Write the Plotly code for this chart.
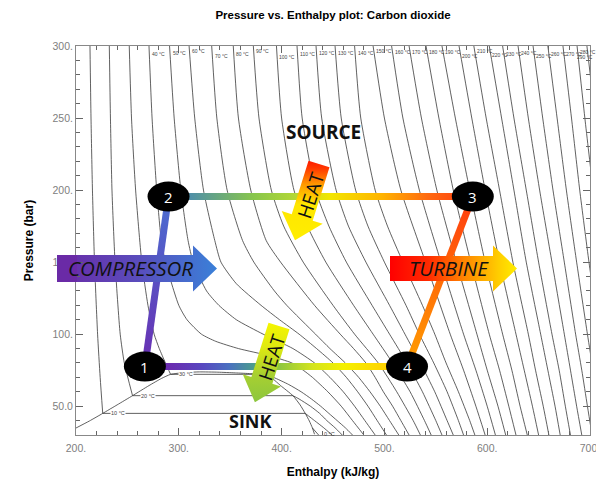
import math
import plotly.graph_objects as go

# ---------------- axes ----------------
x_range = [200, 700]
y_range = [30, 300]
x_tickvals = [200, 300, 400, 500, 600, 700]
x_ticktext = ["200.", "300.", "400.", "500.", "600.", "700."]
y_tickvals = [50, 100, 150, 200, 250, 300]
y_ticktext = ["50.0", "100.", "150.", "200.", "250.", "300."]

# ---------------- saturation dome (h kJ/kg, P bar) ----------------
dome_h = [200, 213, 226, 240, 255, 271, 283, 292, 305, 320, 338, 355, 370, 381, 391, 399, 411, 418, 423, 427, 430, 432]
dome_P = [34.85, 39.7, 45.0, 50.9, 57.3, 64.3, 69.2, 72.1, 73.3, 73.8, 73.6, 73.1, 72.6, 72.1, 69.2, 64.3, 57.3, 50.9, 45.0, 39.7, 34.85, 30.5]

# ---------------- subcritical isotherms ----------------
liq10_P = [300, 250, 200, 150, 100, 70, 45.0]
liq10_h = [213.6, 214.6, 216, 218, 221, 223.5, 226]
vap10_P = [45.0, 40, 35, 30]
vap10_h = [423, 432, 441, 449]

liq20_P = [300, 250, 200, 150, 100, 80, 57.3]
liq20_h = [232.4, 233.5, 235, 238, 243, 247, 255]
vap20_P = [57.3, 55, 50, 45, 40, 35, 30]
vap20_h = [411, 417, 428, 437, 444, 452, 459]

liq30_P = [300, 250, 200, 150, 120, 100, 90, 80, 72.1]
liq30_h = [251.8, 254, 258, 264, 270, 276, 281, 287, 292]
vap30_P = [72.1, 70, 65, 60, 55, 50, 45, 40, 35, 30]
vap30_h = [381, 392, 407, 419, 429, 438, 446, 454, 462, 469]

vap0_P = [34.85, 32.5, 30]
vap0_h = [430, 433, 436]

# ---------------- supercritical isotherms ----------------
P_iso_40 = [300, 250, 200, 165, 150, 120, 110, 100, 95, 90, 85, 80, 75, 70, 60, 50, 40, 30]
h_iso_40 = [271, 274, 278.5, 283, 287, 300, 308, 322, 336, 358, 388, 410, 421, 430, 445, 458, 469, 480]
P_iso_50 = [300, 250, 200, 165, 150, 130, 120, 110, 100, 90, 80, 70, 60, 50, 40, 30]
h_iso_50 = [291, 295.5, 302, 309, 314, 327, 339, 356, 382, 411, 432, 447, 460, 471, 481, 491]
P_iso_60 = [300, 250, 200, 165, 150, 135, 120, 110, 100, 90, 80, 70, 60, 50, 40, 30]
h_iso_60 = [310, 315.5, 324, 335, 341, 356, 380, 398, 417, 434, 450, 463, 474, 484, 493, 502]
P_iso_70 = [300, 250, 200, 165, 150, 130, 120, 100, 90, 80, 70, 60, 50, 40, 30]
h_iso_70 = [332, 337, 347, 362, 373, 393, 405, 433, 447, 462, 475, 486, 496, 505, 514]
P_iso_80 = [300, 250, 200, 165, 150, 120, 100, 90, 80, 70, 60, 50, 40, 30]
h_iso_80 = [353, 358, 370, 385, 399, 432, 457, 470, 482, 491, 499, 508, 516, 524]

P_grid_b = [300, 250, 200, 175, 150, 120, 100, 80, 60, 40, 30]
h_iso_90 = [372.5, 378, 390, 402, 421, 450, 471, 494, 512, 528, 535]
h_iso_100 = [395, 400, 412, 425, 443, 470, 489, 508, 525, 539, 545.5]
h_iso_110 = [415, 420, 433, 446, 463, 488, 505, 522, 537, 550, 556]
h_iso_120 = [433.5, 439, 453, 465, 482, 505, 520, 535, 549, 561, 567]
h_iso_130 = [452, 458, 472, 484, 500, 521, 534, 548, 561, 572, 577]
h_iso_140 = [471, 477, 491, 503, 518, 537, 549, 560, 572, 583, 588]

P_grid_c = [300, 250, 200, 150, 100, 75, 50, 30]
h_iso_150 = [489, 500, 516, 540, 564, 577, 589, 598]
h_iso_160 = [507, 518, 534, 555, 577, 589, 600, 608]
h_iso_170 = [524, 536, 551, 570, 590, 600, 610.5, 618]
h_iso_180 = [540.5, 553, 567, 584, 602, 612, 621, 628]
h_iso_190 = [556, 569, 583, 598, 615, 624, 632, 639]
h_iso_200 = [572.6, 585, 598, 612, 628, 636, 644, 650]
h_iso_210 = [587, 599, 612, 625, 640, 647, 654.5, 660]
h_iso_220 = [602, 614, 626, 638, 652, 659, 666, 671]
h_iso_230 = [615, 626, 638, 650, 663, 670, 676, 681]
h_iso_240 = [630, 640, 651, 663, 675, 681, 687, 692]
h_iso_250 = [644.6, 654, 664, 675, 686, 692, 697.5, 702]
h_iso_260 = [659, 668, 677, 687, 697.5, 703, 708.5, 713]
h_iso_270 = [673.7, 682, 690, 699, 709, 714, 719, 723]
h_iso_280 = [687.4, 695, 703, 711, 720, 725, 730, 734]
h_iso_290 = [697, 705, 712, 720, 728, 733, 737, 741]

# ---------------- cycle states 1..4 ----------------
cycle_labels = ["1", "2", "3", "4"]
cycle_h = [267, 290, 586, 522]
cycle_P = [77.5, 195.5, 195.5, 77.5]

# ---------------- assemble isotherm list ----------------
super_isos = [
    (40, P_iso_40, h_iso_40), (50, P_iso_50, h_iso_50), (60, P_iso_60, h_iso_60),
    (70, P_iso_70, h_iso_70), (80, P_iso_80, h_iso_80),
    (90, P_grid_b, h_iso_90), (100, P_grid_b, h_iso_100), (110, P_grid_b, h_iso_110),
    (120, P_grid_b, h_iso_120), (130, P_grid_b, h_iso_130), (140, P_grid_b, h_iso_140),
    (150, P_grid_c, h_iso_150), (160, P_grid_c, h_iso_160), (170, P_grid_c, h_iso_170),
    (180, P_grid_c, h_iso_180), (190, P_grid_c, h_iso_190), (200, P_grid_c, h_iso_200),
    (210, P_grid_c, h_iso_210), (220, P_grid_c, h_iso_220), (230, P_grid_c, h_iso_230),
    (240, P_grid_c, h_iso_240), (250, P_grid_c, h_iso_250), (260, P_grid_c, h_iso_260),
    (270, P_grid_c, h_iso_270), (280, P_grid_c, h_iso_280), (290, P_grid_c, h_iso_290),
]
sub_isos = [
    (10, liq10_P, liq10_h, vap10_P, vap10_h),
    (20, liq20_P, liq20_h, vap20_P, vap20_h),
    (30, liq30_P, liq30_h, vap30_P, vap30_h),
]

# ---------------- geometry helpers (plot area in px) ----------------
W_FIG, H_FIG = 596, 485
M_L, M_R, M_T, M_B = 76, 6, 46, 50
PX0, PX1 = M_L, W_FIG - M_R
PY0, PY1 = M_T, H_FIG - M_B
SX = (PX1 - PX0) / (x_range[1] - x_range[0])
SY = (PY1 - PY0) / (y_range[1] - y_range[0])


def to_px(h, P):
    return PX0 + (h - x_range[0]) * SX, PY1 - (P - y_range[0]) * SY


def to_data(px, py):
    return x_range[0] + (px - PX0) / SX, y_range[0] + (PY1 - py) / SY


def paper(px, py):
    return (px - PX0) / (PX1 - PX0), (PY1 - py) / (PY1 - PY0)


def band(h0, P0, h1, P1, t):
    x0, y0 = to_px(h0, P0)
    x1, y1 = to_px(h1, P1)
    L = math.hypot(x1 - x0, y1 - y0)
    nx, ny = -(y1 - y0) / L * t, (x1 - x0) / L * t
    pts = [(x0 + nx, y0 + ny), (x1 + nx, y1 + ny), (x1 - nx, y1 - ny), (x0 - nx, y0 - ny), (x0 + nx, y0 + ny)]
    d = [to_data(*p) for p in pts]
    return [p[0] for p in d], [p[1] for p in d]


def block_arrow(tx, ty, dx, dy, w, Wh, Lb, L):
    n = math.hypot(dx, dy)
    ux, uy = dx / n, dy / n
    nx, ny = -uy, ux
    bx, by = tx + Lb * ux, ty + Lb * uy
    pts = [(tx + w * nx, ty + w * ny), (bx + w * nx, by + w * ny), (bx + Wh * nx, by + Wh * ny),
           (tx + L * ux, ty + L * uy), (bx - Wh * nx, by - Wh * ny), (bx - w * nx, by - w * ny),
           (tx - w * nx, ty - w * ny), (tx + w * nx, ty + w * ny)]
    d = [to_data(*p) for p in pts]
    return [p[0] for p in d], [p[1] for p in d]


def grad_fill(xs, ys, kind, scale):
    return go.Scatter(x=xs, y=ys, mode="lines", fill="toself",
                      line=dict(width=0, color="rgba(0,0,0,0)"),
                      fillgradient=dict(type=kind, colorscale=scale),
                      hoverinfo="skip", showlegend=False)


fig = go.Figure()
ISO = dict(color="#383838", width=0.8)

for T, Ps, hs in super_isos:
    fig.add_trace(go.Scatter(x=hs, y=Ps, mode="lines", line=dict(shape="spline", smoothing=0.6, **ISO),
                             hoverinfo="skip", showlegend=False))
for T, lP, lh, vP, vh in sub_isos:
    fig.add_trace(go.Scatter(x=lh, y=lP, mode="lines", line=dict(shape="spline", smoothing=0.6, **ISO),
                             hoverinfo="skip", showlegend=False))
    fig.add_trace(go.Scatter(x=[lh[-1], vh[0]], y=[lP[-1], vP[0]], mode="lines", line=ISO,
                             hoverinfo="skip", showlegend=False))
    fig.add_trace(go.Scatter(x=vh, y=vP, mode="lines", line=dict(shape="spline", smoothing=0.6, **ISO),
                             hoverinfo="skip", showlegend=False))
fig.add_trace(go.Scatter(x=vap0_h, y=vap0_P, mode="lines", line=ISO, hoverinfo="skip", showlegend=False))
fig.add_trace(go.Scatter(x=dome_h, y=dome_P, mode="lines", line=dict(shape="spline", smoothing=0.5, **ISO),
                         hoverinfo="skip", showlegend=False))

# ---------------- cycle path ----------------
HALF = 3.5
bx, by = band(cycle_h[0], cycle_P[0], cycle_h[1], cycle_P[1], HALF)
fig.add_trace(grad_fill(bx, by, "vertical", [[0, "#6a2eb2"], [1, "#4a6fd2"]]))
bx, by = band(cycle_h[1], cycle_P[1], cycle_h[2], cycle_P[2], HALF)
fig.add_trace(grad_fill(bx, by, "horizontal",
                        [[0, "#4a7fb8"], [0.07, "#4f8fa8"], [0.28, "#88c64c"], [0.42, "#b5d835"],
                         [0.53, "#f2e600"], [0.7, "#ffb400"], [0.85, "#ff6a10"], [1, "#ff3a10"]]))
bx, by = band(cycle_h[2], cycle_P[2], cycle_h[3], cycle_P[3], HALF)
fig.add_trace(grad_fill(bx, by, "vertical", [[0, "#ffa000"], [1, "#ff3a10"]]))
bx, by = band(cycle_h[3], cycle_P[3], cycle_h[0], cycle_P[0], HALF)
fig.add_trace(grad_fill(bx, by, "horizontal",
                        [[0, "#6a28b0"], [0.1, "#6a2db0"], [0.22, "#5848c0"], [0.32, "#4a70c0"],
                         [0.41, "#4a9a90"], [0.51, "#8cc640"], [0.64, "#d4e41e"], [0.76, "#f5f000"],
                         [0.92, "#ffd200"], [1, "#ffc000"]]))

# ---------------- block arrows ----------------
ax_, ay_ = block_arrow(57, 268.5, 1, 0, 13.5, 23, 136, 160)
fig.add_trace(grad_fill(ax_, ay_, "horizontal", [[0, "#6a2aa6"], [0.5, "#5a4cbc"], [1, "#3a80d8"]]))
ax_, ay_ = block_arrow(390, 268.5, 1, 0, 12.5, 23, 103, 127)
fig.add_trace(grad_fill(ax_, ay_, "horizontal",
                        [[0, "#ff0000"], [0.3, "#ff2a00"], [0.6, "#ff8a00"], [0.85, "#ffcc00"], [1, "#ffee00"]]))
ax_, ay_ = block_arrow(319, 164, -22, 70, 11, 21.5, 56, 80)
fig.add_trace(grad_fill(ax_, ay_, "vertical",
                        [[0, "#ffee00"], [0.45, "#ffe600"], [0.7, "#ff9a00"], [0.9, "#ff3a00"], [1, "#ff1a00"]]))
ax_, ay_ = block_arrow(279, 326, -24, 76, 11, 20, 57, 80)
fig.add_trace(grad_fill(ax_, ay_, "vertical",
                        [[0, "#8cc63f"], [0.35, "#a8d030"], [0.7, "#e0ea10"], [1, "#f5f500"]]))

shapes = []
# part of the compressor arrow that sits outside the plot area
p0 = paper(57, 282)
p1 = paper(77, 255)
shapes.append(dict(type="rect", xref="paper", yref="paper", x0=p0[0], x1=p1[0], y0=p0[1], y1=p1[1],
                   fillcolor="#6a2aa6", line=dict(width=0), layer="above"))
# state bubbles
for lab, h, P in zip(cycle_labels, cycle_h, cycle_P):
    shapes.append(dict(type="circle", xref="x", yref="y", xsizemode="pixel", ysizemode="pixel",
                       xanchor=h, yanchor=P, x0=-21, x1=21, y0=-15, y1=15,
                       fillcolor="black", line=dict(width=0), layer="above"))

annotations = []
for lab, h, P in zip(cycle_labels, cycle_h, cycle_P):
    annotations.append(dict(x=h, y=P, xref="x", yref="y", text=lab, showarrow=False,
                            font=dict(family="Open Sans", size=15, color="white")))

BIG = "Open Sans"


def note(px, py, text, size, italic=False, bold=False, angle=0, color="#111"):
    xp, yp = paper(px, py)
    t = text
    if bold:
        t = "<b>" + t + "</b>"
    if italic:
        t = "<i>" + t + "</i>"
    annotations.append(dict(x=xp, y=yp, xref="paper", yref="paper", text=t, showarrow=False,
                            textangle=angle, xanchor="center", yanchor="middle",
                            font=dict(family=BIG, size=size, color=color)))


note(130, 268, "COMPRESSOR", 20.5, italic=True)
note(449, 268, "TURBINE", 20.5, italic=True)
note(323.5, 132, "SOURCE", 19, bold=True)
note(250, 421, "SINK", 18, bold=True)
note(311, 195, "HEAT", 19, angle=-72)
note(272, 357, "HEAT", 19, angle=-72)

# isotherm labels along the top (slightly staggered like the reference)
label_dy = [0, -1, -3, 2, 0, -3, 3, 0, -1, -1, -1, -3, -2, -2, -2, -2, 2, -3, 1, 0, -1, 2, 0, 0, -2, 3]
for (T, Ps, hs), dy in zip(super_isos, label_dy):
    lx, ly = to_px(hs[0], 300)
    anchor = "left"
    if lx + 18 > W_FIG:
        lx, anchor = W_FIG - 1, "right"
    xp, yp = paper(lx + (1 if anchor == "left" else 0), PY0 + 8 + dy)
    annotations.append(dict(x=xp, y=yp, xref="paper", yref="paper", text=f"{T} °C", showarrow=False,
                            xanchor=anchor, yanchor="middle",
                            font=dict(family="Liberation Sans", size=5, color="#444")))
# labels inside the dome
for T, lP, lh, vP, vh in sub_isos:
    annotations.append(dict(x=lh[-1] + 15, y=lP[-1], xref="x", yref="y", text=f"{T} °C", showarrow=False,
                            xanchor="center", yanchor="middle", bgcolor="white", borderpad=0,
                            font=dict(family="Liberation Sans", size=5.5, color="#444")))
annotations.append(dict(x=vap0_h[-1] + 3, y=31, xref="x", yref="y", text="0 °C", showarrow=False,
                        xanchor="left", yanchor="middle",
                        font=dict(family="Liberation Sans", size=5.5, color="#444")))

axis_common = dict(showline=True, mirror="allticks", linecolor="#888", linewidth=1,
                   ticks="inside", ticklen=7, tickcolor="#666", tickwidth=1,
                   showgrid=False, zeroline=False, ticklabeloverflow="allow",
                   tickfont=dict(family="Liberation Sans", size=10.5, color="#808080"))

fig.update_layout(
    width=W_FIG, height=H_FIG,
    margin=dict(l=M_L, r=M_R, t=M_T, b=M_B, autoexpand=False),
    paper_bgcolor="white", plot_bgcolor="white",
    title=dict(text="<b>Pressure vs. Enthalpy plot: Carbon dioxide</b>", x=0.5, xref="paper",
               y=1 - 15 / H_FIG, yref="container", yanchor="middle",
               font=dict(family="Liberation Sans", size=11.5, color="black")),
    xaxis=dict(range=x_range, tickvals=x_tickvals, ticktext=x_ticktext,
               minor=dict(dtick=20, ticks="inside", ticklen=4, tickcolor="#666"),
               ticklabelstandoff=3,
               title=dict(text="<b>Enthalpy (kJ/kg)</b>", standoff=15,
                          font=dict(family="Liberation Sans", size=12, color="black")),
               **axis_common),
    yaxis=dict(range=y_range, tickvals=y_tickvals, ticktext=y_ticktext,
               minor=dict(dtick=10, ticks="inside", ticklen=4, tickcolor="#666"),
               title=dict(text="<b>Pressure (bar)</b>", standoff=16,
                          font=dict(family="Liberation Sans", size=12, color="black")),
               **axis_common),
    shapes=shapes, annotations=annotations, showlegend=False,
)

fig.write_html("out.html", config={"displayModeBar": False},
               post_script="document.body.style.margin='0';document.body.style.padding='0';"
                           "document.documentElement.style.overflow='hidden';")
